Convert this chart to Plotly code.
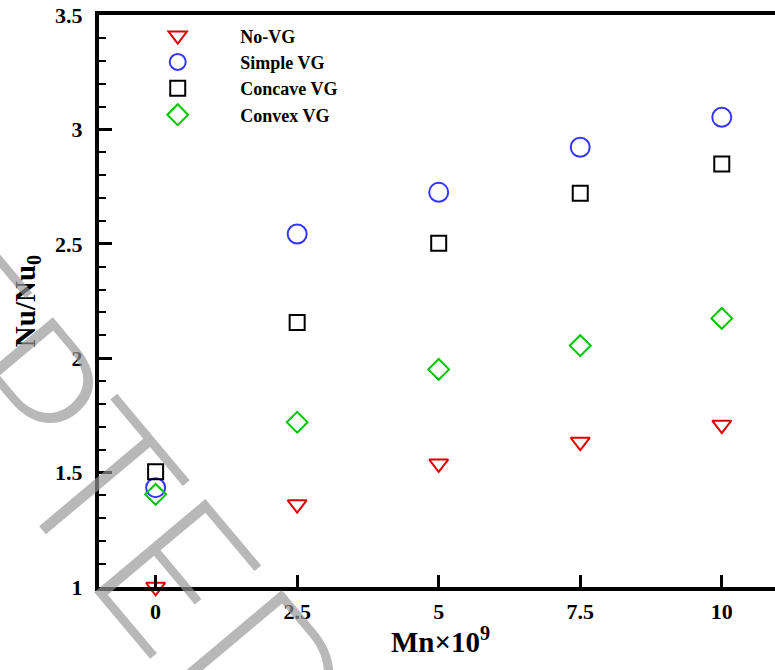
import plotly.graph_objects as go

# Data
mn = [0, 2.5, 5, 7.5, 10]
no_vg = [1.0, 1.361, 1.539, 1.634, 1.709]
simple_vg = [1.434, 2.543, 2.725, 2.922, 3.053]
concave_vg = [1.504, 2.156, 2.502, 2.721, 2.849]
convex_vg = [1.405, 1.720, 1.951, 2.055, 2.174]

series_names = ["No-VG", "Simple VG", "Concave VG", "Convex VG"]
x_tickvals = [0, 2.5, 5, 7.5, 10]
x_ticktext = ["0", "2.5", "5", "7.5", "10"]
y_tickvals = [1, 1.5, 2, 2.5, 3, 3.5]
y_ticktext = ["1", "1.5", "2", "2.5", "3", "3.5"]
x_title = "Mn×10<sup>9</sup>"
y_title = "Nu/Nu<sub>0</sub>"

SERIF = "Liberation Serif, Times New Roman, serif"

styles = [
    dict(symbol="triangle-down-open", color="#dd0000", size=16.5),
    dict(symbol="circle-open", color="#3535ff", size=19),
    dict(symbol="square-open", color="#000000", size=15),
    dict(symbol="diamond-open", color="#00c400", size=16),
]
values = [no_vg, simple_vg, concave_vg, convex_vg]

fig = go.Figure()
for name, vals, st in zip(series_names, values, styles):
    fig.add_trace(go.Scatter(
        x=mn, y=vals, mode="markers", name=name,
        marker=dict(symbol=st["symbol"], size=st["size"], color=st["color"],
                    line=dict(width=2, color=st["color"])),
        cliponaxis=False,
    ))

fig.update_layout(
    width=775, height=670,
    margin=dict(l=99, r=0, t=15, b=83),
    plot_bgcolor="white", paper_bgcolor="white",
    showlegend=True,
    legend=dict(
        x=0.024, y=0.996, xanchor="left", yanchor="top",
        font=dict(family=SERIF, size=18, color="black", weight="bold"),
        itemwidth=115, bgcolor="rgba(0,0,0,0)", borderwidth=0,
        tracegroupgap=0,
    ),
    xaxis=dict(
        range=[-1, 10.94], tickvals=x_tickvals, ticktext=x_ticktext,
        ticks="inside", ticklen=12, tickwidth=2.5, tickcolor="black",
        showline=True, linewidth=4, linecolor="black", mirror=True,
        showgrid=False, zeroline=False, ticklabelstandoff=2,
        tickfont=dict(family=SERIF, size=22, color="black", weight="bold"),
    ),
    yaxis=dict(
        range=[1, 3.5], tickvals=y_tickvals, ticktext=y_ticktext,
        ticks="inside", ticklen=13, tickwidth=2.5, tickcolor="black",
        minor=dict(dtick=0.1, ticks="inside", ticklen=7, tickwidth=1.8, tickcolor="black"),
        showline=True, linewidth=4, linecolor="black", mirror=False,
        showgrid=False, zeroline=False, ticklabelstandoff=8,
        tickfont=dict(family=SERIF, size=22, color="black", weight="bold"),
        title=dict(text=y_title, standoff=12,
                   font=dict(family=SERIF, size=29, color="black", weight="bold")),
    ),
)

# X-axis title (placed as an annotation for precise vertical position)
fig.add_annotation(
    text=x_title, xref="paper", yref="paper",
    x=0.505, y=-0.058, xanchor="center", yanchor="top", showarrow=False,
    font=dict(family=SERIF, size=29, color="black", weight="bold"),
)

# Watermark
fig.add_annotation(
    text="ACCEPTED", xref="paper", yref="paper",
    x=-0.17, y=0.435, xanchor="center", yanchor="middle",
    textangle=50, showarrow=False,
    font=dict(family="Lato, Open Sans, sans-serif", size=205,
              color="rgba(150,150,150,0.68)", weight=300),
)

fig.write_html("out.html")
